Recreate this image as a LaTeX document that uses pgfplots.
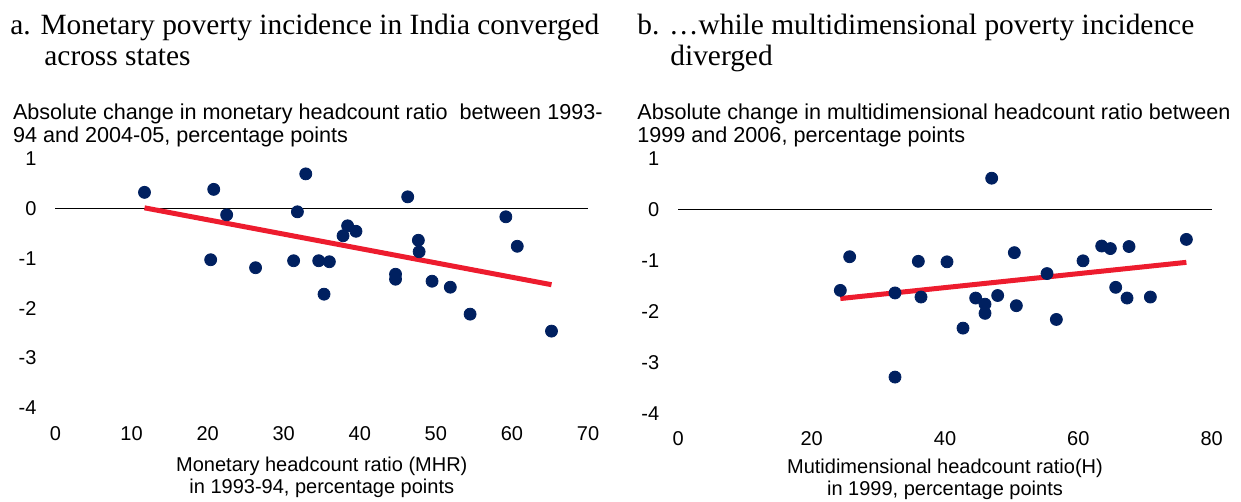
\documentclass[border=0pt]{standalone}
\usepackage{fontspec}
\setmainfont{Liberation Sans}
\newfontfamily\serif{Liberation Serif}
\usepackage{pgfplots}
\pgfplotsset{compat=1.18}
\definecolor{navy}{HTML}{002060}
\definecolor{trend}{HTML}{ED1C2E}
\pgfplotsset{
  panel/.style={
    scale only axis,
    anchor=south west,
    ymin=-4, ymax=1,
    ytick={-4,-3,-2,-1,0,1},
    yticklabels={-4,-3,-2,-1,0,1},
    axis line style={draw=none},
    tick style={draw=none},
    major tick length=0pt,
    clip=false,
    /pgf/number format/assume math mode=true,
    ticklabel style={font=\fontsize{10}{12}\selectfont},
    yticklabel style={xshift=-6pt},
    xticklabel style={yshift=-5.7pt},
  },
  dots/.style={only marks, mark=*, mark size=3pt, mark options={draw=navy, fill=navy}},
  trendline/.style={trend, line width=2.5pt, no marks},
}
\begin{document}
\begin{tikzpicture}
\useasboundingbox (0,0) rectangle (620.5pt,-251pt);
% titles
\node[anchor=base west, inner sep=0pt, font=\serif\fontsize{14.7}{16}\selectfont] at (5pt,-17.2pt) {a. Monetary poverty incidence in India converged};
\node[anchor=base west, inner sep=0pt, font=\serif\fontsize{14.7}{16}\selectfont] at (22pt,-32.7pt) {across states};
\node[anchor=base west, inner sep=0pt, font=\serif\fontsize{14.7}{16}\selectfont] at (318.5pt,-17.2pt) {b. …while multidimensional poverty incidence};
\node[anchor=base west, inner sep=0pt, font=\serif\fontsize{14.7}{16}\selectfont] at (335pt,-32.7pt) {diverged};
% subtitles
\node[anchor=base west, inner sep=0pt, font=\fontsize{10.8}{12}\selectfont] at (6.3pt,-59.6pt) {Absolute change in monetary headcount ratio\ \ between 1993-};
\node[anchor=base west, inner sep=0pt, font=\fontsize{10.8}{12}\selectfont] at (6.3pt,-71.1pt) {94 and 2004-05, percentage points};
\node[anchor=base west, inner sep=0pt, font=\fontsize{10.8}{12}\selectfont] at (318.5pt,-59.6pt) {Absolute change in multidimensional headcount ratio between};
\node[anchor=base west, inner sep=0pt, font=\fontsize{10.8}{12}\selectfont] at (318.5pt,-71.1pt) {1999 and 2006, percentage points};
% x labels
\node[anchor=base, inner sep=0pt, font=\fontsize{10}{12}\selectfont] at (160.9pt,-235.5pt) {Monetary headcount ratio (MHR)};
\node[anchor=base, inner sep=0pt, font=\fontsize{10}{12}\selectfont] at (160.9pt,-246.5pt) {in 1993-94, percentage points};
\node[anchor=base, inner sep=0pt, font=\fontsize{10}{12}\selectfont] at (472.5pt,-236.5pt) {Mutidimensional headcount ratio(H)};
\node[anchor=base, inner sep=0pt, font=\fontsize{10}{12}\selectfont] at (472.5pt,-247.5pt) {in 1999, percentage points};

\begin{axis}[panel,
  at={(27.75pt,-204pt)},
  width=266.25pt, height=124.8pt,
  xmin=0, xmax=70,
  xtick={0,10,20,30,40,50,60,70},
]
\addplot[black, line width=0.75pt, no marks] coordinates {(0,0) (70,0)};
\addplot[dots] coordinates {
(11.7,0.32) (20.8,0.38) (22.5,-0.13) (20.4,-1.03) (26.3,-1.19)
(32.9,0.69) (31.8,-0.07) (31.3,-1.05) (34.6,-1.05) (36.0,-1.07)
(35.3,-1.72) (38.4,-0.35) (39.5,-0.46) (37.8,-0.55) (46.3,0.23)
(47.7,-0.64) (47.8,-0.87) (44.7,-1.32) (44.7,-1.42) (49.5,-1.46)
(51.9,-1.58) (54.5,-2.12) (59.2,-0.17) (60.7,-0.76) (65.2,-2.46)
};
\addplot[trendline] coordinates {(11.7,0.01) (65.2,-1.53)};
\end{axis}

\begin{axis}[panel,
  at={(339.15pt,-206.65pt)},
  width=266.7pt, height=127.5pt,
  xmin=0, xmax=80,
  xtick={0,20,40,60,80},
]
\addplot[black, line width=0.75pt, no marks] coordinates {(0,0) (80,0)};
\addplot[dots] coordinates {
(24.3,-1.59) (25.7,-0.93) (32.5,-1.64) (32.5,-3.29) (36.0,-1.02)
(36.4,-1.72) (40.3,-1.03) (42.7,-2.33) (44.6,-1.74) (46.0,-1.86)
(46.0,-2.04) (47.0,0.61) (47.9,-1.69) (50.4,-0.85) (50.7,-1.89)
(55.3,-1.26) (56.7,-2.16) (60.7,-1.01) (63.5,-0.72) (64.8,-0.77)
(65.6,-1.53) (67.6,-0.73) (67.3,-1.74) (70.8,-1.72) (76.2,-0.59)
};
\addplot[trendline] coordinates {(24.3,-1.75) (76.2,-1.04)};
\end{axis}
\end{tikzpicture}
\end{document}
